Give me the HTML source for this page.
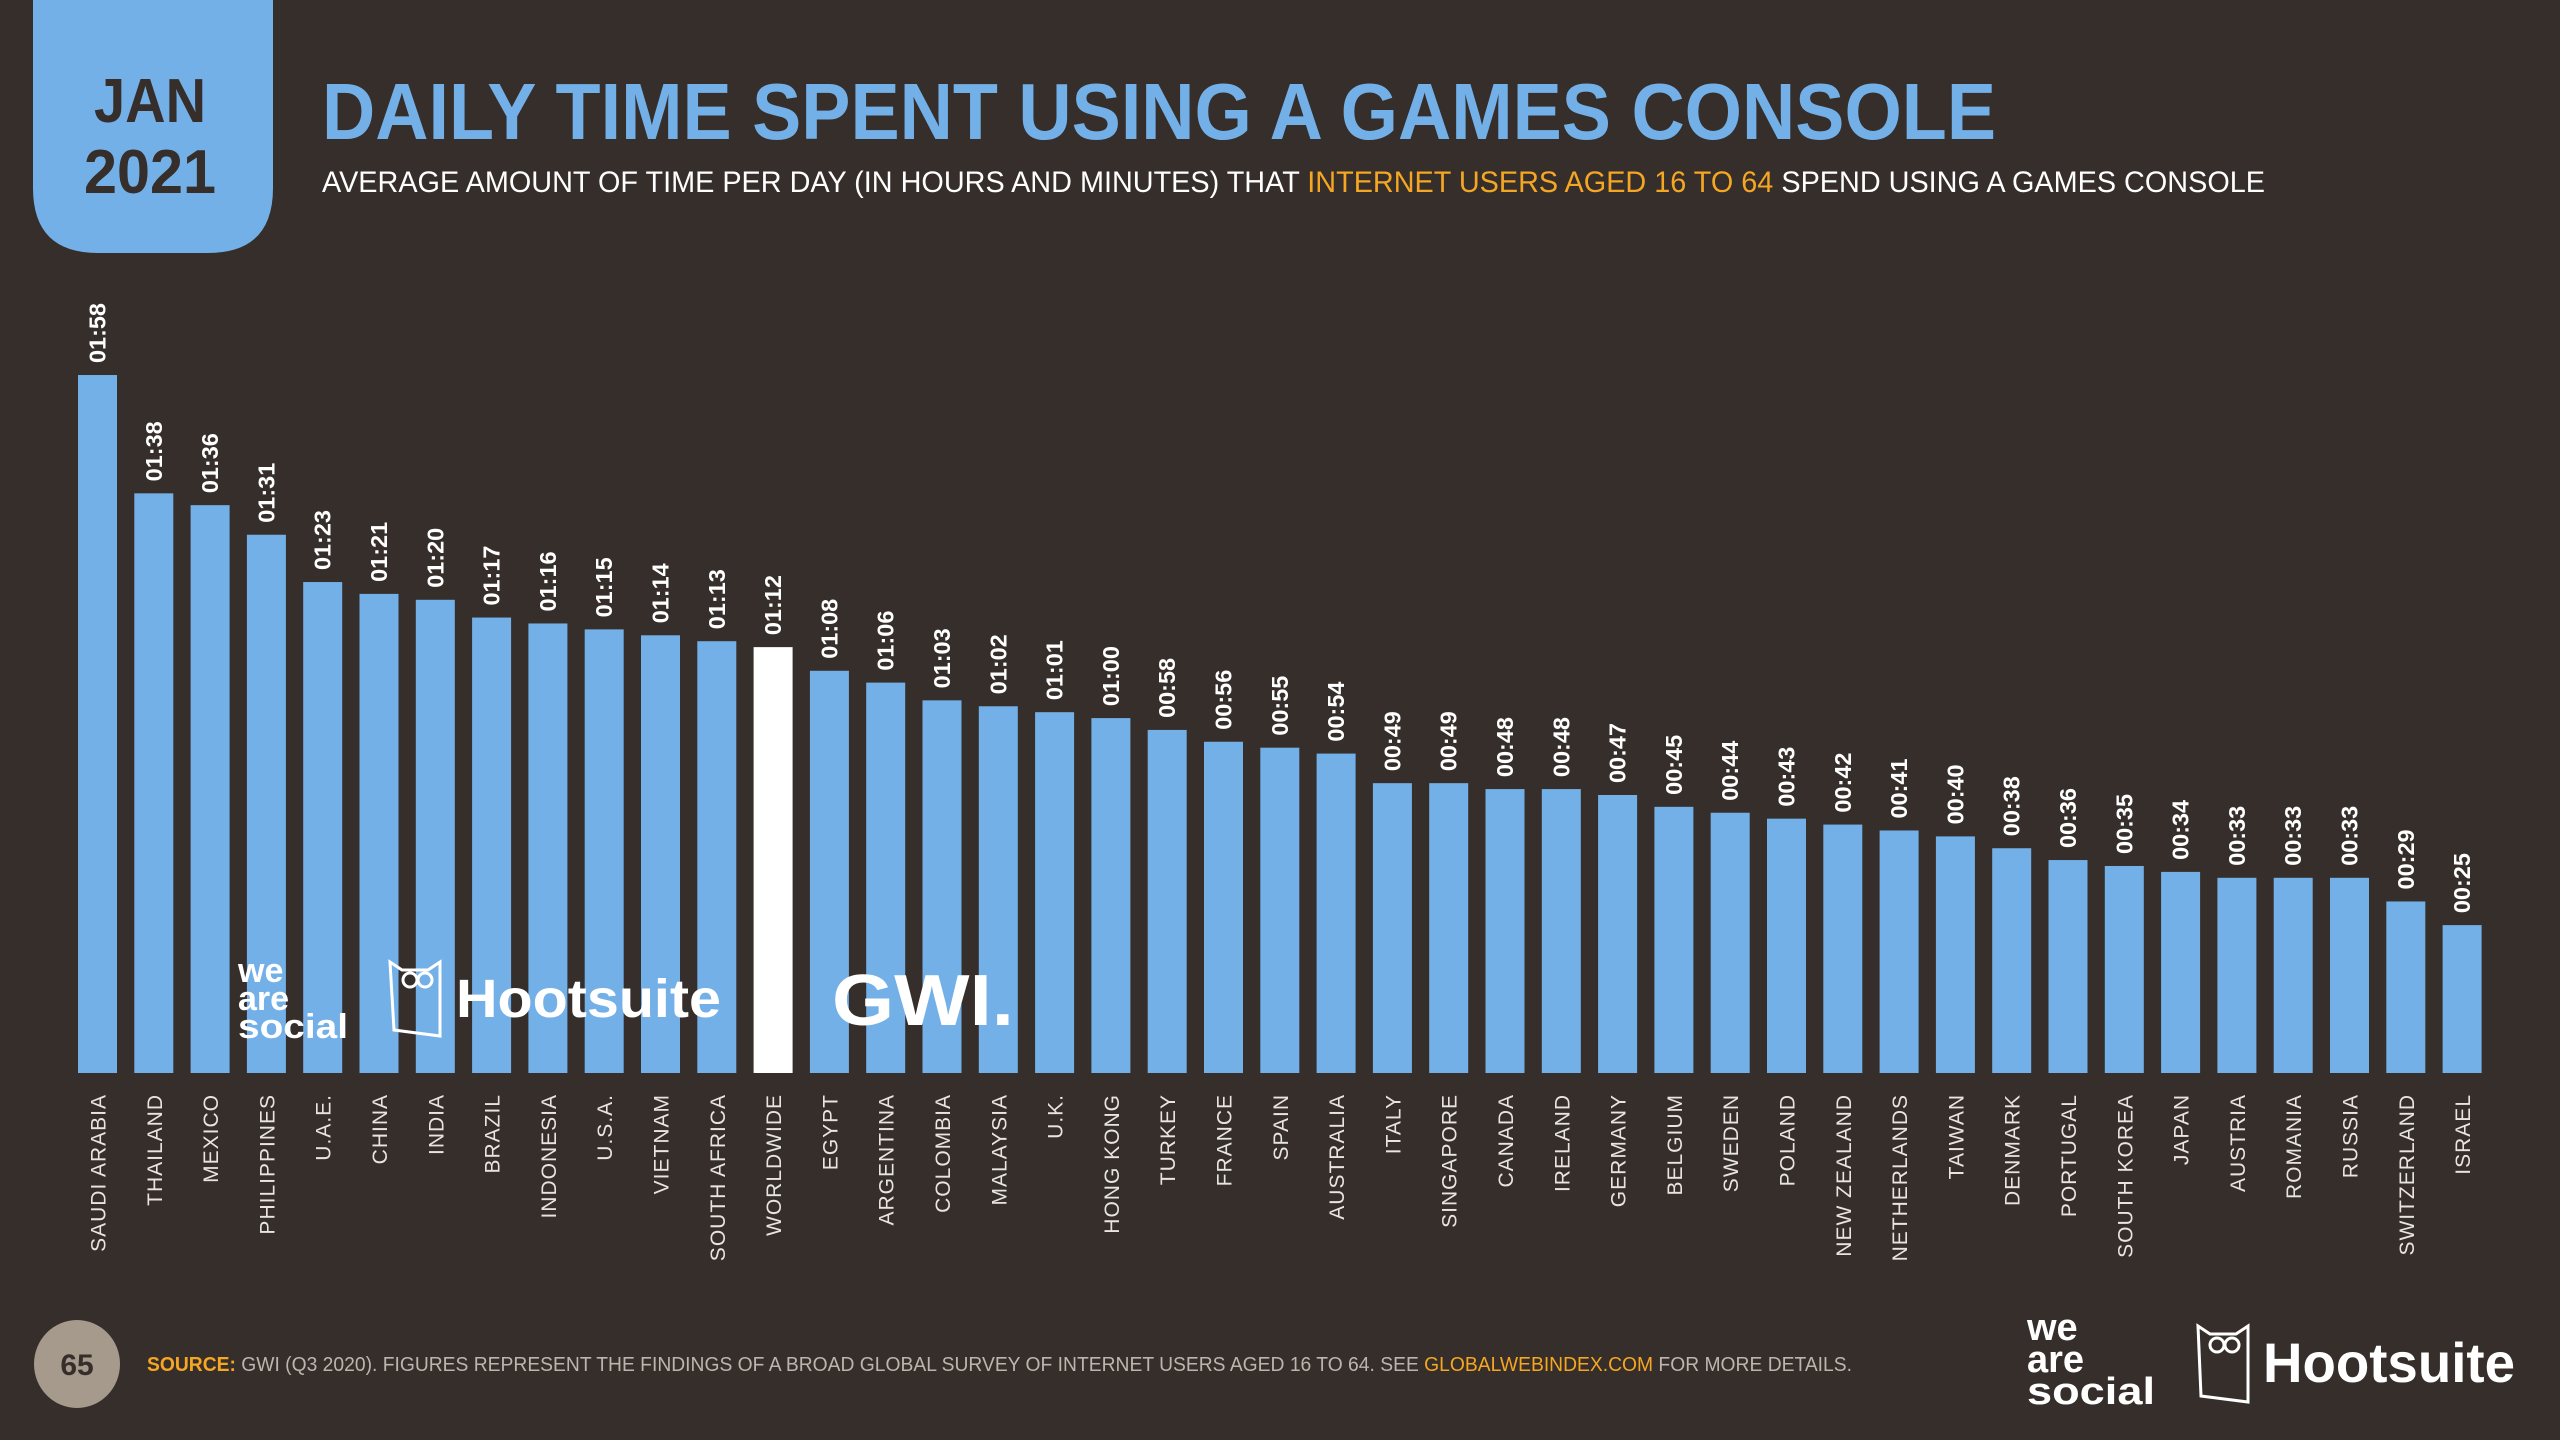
<!DOCTYPE html>
<html><head><meta charset="utf-8"><style>
html,body{margin:0;padding:0;background:#352e2a;}
svg{display:block;}
text{font-family:"Liberation Sans",sans-serif;}
</style></head><body>
<svg id="chart" width="2560" height="1440" viewBox="0 0 2560 1440" xmlns="http://www.w3.org/2000/svg">
<rect x="0" y="0" width="2560" height="1440" fill="#352e2a"/>
<path d="M33 0 H273 V188 Q273 253 208 253 H98 Q33 253 33 188 Z" fill="#74b0e8"/>
<text x="150" y="122" text-anchor="middle" font-size="62" font-weight="bold" fill="#352e2a" textLength="112" lengthAdjust="spacingAndGlyphs">JAN</text>
<text x="150" y="193" text-anchor="middle" font-size="62" font-weight="bold" fill="#352e2a" textLength="132" lengthAdjust="spacingAndGlyphs">2021</text>
<text x="322" y="139" font-size="80" font-weight="bold" fill="#74b0e8" textLength="1674" lengthAdjust="spacingAndGlyphs">DAILY TIME SPENT USING A GAMES CONSOLE</text>
<text x="322" y="192" font-size="30" fill="#ffffff" textLength="1943" lengthAdjust="spacingAndGlyphs">AVERAGE AMOUNT OF TIME PER DAY (IN HOURS AND MINUTES) THAT <tspan fill="#f5a623">INTERNET USERS AGED 16 TO 64</tspan> SPEND USING A GAMES CONSOLE</text>
<g id="bars"></g>
<g id="vals"></g>
<g id="cats"></g>
<g>
<text x="238" y="982" font-size="34" font-weight="bold" fill="#fff">we</text>
<text x="238" y="1010" font-size="34" font-weight="bold" fill="#fff">are</text>
<text x="238" y="1038" font-size="34" font-weight="bold" fill="#fff" textLength="110" lengthAdjust="spacingAndGlyphs">social</text>
</g>
<g>
<path d="M390 962 L394 1030 L440 1036 L440 962 L428 970 L402 970 Z" fill="none" stroke="#fff" stroke-width="3"/>
<circle cx="410" cy="980" r="7" fill="none" stroke="#fff" stroke-width="3"/>
<circle cx="425" cy="980" r="7" fill="none" stroke="#fff" stroke-width="3"/>
<text x="456" y="1017" font-size="54" font-weight="bold" fill="#fff" textLength="265" lengthAdjust="spacingAndGlyphs">Hootsuite</text>
</g>
<text x="832" y="1025" font-size="72" font-weight="bold" fill="#fff" textLength="182" lengthAdjust="spacingAndGlyphs">GWI.</text>
<ellipse cx="77" cy="1364" rx="43" ry="44" fill="#a69a8c"/>
<text x="77" y="1375" text-anchor="middle" font-size="30" font-weight="bold" fill="#352e2a">65</text>
<text x="147" y="1371" font-size="20" fill="#bdb5ad" textLength="1705" lengthAdjust="spacingAndGlyphs"><tspan fill="#f5a623" font-weight="bold">SOURCE:</tspan> GWI (Q3 2020). FIGURES REPRESENT THE FINDINGS OF A BROAD GLOBAL SURVEY OF INTERNET USERS AGED 16 TO 64. SEE <tspan fill="#f5a623">GLOBALWEBINDEX.COM</tspan> FOR MORE DETAILS.</text>
<g>
<text x="2027" y="1340" font-size="38" font-weight="bold" fill="#fff">we</text>
<text x="2027" y="1372" font-size="38" font-weight="bold" fill="#fff">are</text>
<text x="2027" y="1404" font-size="38" font-weight="bold" fill="#fff" textLength="128" lengthAdjust="spacingAndGlyphs">social</text>
</g>
<g>
<path d="M2198 1326 L2201 1396 L2248 1402 L2248 1326 L2236 1334 L2210 1334 Z" fill="none" stroke="#fff" stroke-width="3"/>
<circle cx="2217" cy="1345" r="7" fill="none" stroke="#fff" stroke-width="3"/>
<circle cx="2232" cy="1345" r="7" fill="none" stroke="#fff" stroke-width="3"/>
<text x="2263" y="1382" font-size="56" font-weight="bold" fill="#fff" textLength="252" lengthAdjust="spacingAndGlyphs">Hootsuite</text>
</g>
</svg>
<script>
const categories = ["SAUDI ARABIA","THAILAND","MEXICO","PHILIPPINES","U.A.E.","CHINA","INDIA","BRAZIL","INDONESIA","U.S.A.","VIETNAM","SOUTH AFRICA","WORLDWIDE","EGYPT","ARGENTINA","COLOMBIA","MALAYSIA","U.K.","HONG KONG","TURKEY","FRANCE","SPAIN","AUSTRALIA","ITALY","SINGAPORE","CANADA","IRELAND","GERMANY","BELGIUM","SWEDEN","POLAND","NEW ZEALAND","NETHERLANDS","TAIWAN","DENMARK","PORTUGAL","SOUTH KOREA","JAPAN","AUSTRIA","ROMANIA","RUSSIA","SWITZERLAND","ISRAEL"];
const minutes = [118,98,96,91,83,81,80,77,76,75,74,73,72,68,66,63,62,61,60,58,56,55,54,49,49,48,48,47,45,44,43,42,41,40,38,36,35,34,33,33,33,29,25];
const valueLabels = ["01:58","01:38","01:36","01:31","01:23","01:21","01:20","01:17","01:16","01:15","01:14","01:13","01:12","01:08","01:06","01:03","01:02","01:01","01:00","00:58","00:56","00:55","00:54","00:49","00:49","00:48","00:48","00:47","00:45","00:44","00:43","00:42","00:41","00:40","00:38","00:36","00:35","00:34","00:33","00:33","00:33","00:29","00:25"];
const highlight = "WORLDWIDE";

const NS = "http://www.w3.org/2000/svg";
const baseY = 1073, pxPerMin = 5.915, x0 = 78, pitch = 56.3, bw = 39;
function xPos(i){ return x0 + i*pitch; }
function yPos(v){ return baseY - v*pxPerMin; }
const gb = document.getElementById('bars'), gv = document.getElementById('vals'), gc = document.getElementById('cats');
categories.forEach((c,i)=>{
  const x = xPos(i), y = yPos(minutes[i]);
  const r = document.createElementNS(NS,'rect');
  r.setAttribute('x',x); r.setAttribute('y',y); r.setAttribute('width',bw); r.setAttribute('height',baseY-y);
  r.setAttribute('fill', c===highlight ? '#ffffff' : '#74b0e8');
  
  
  gb.appendChild(r);
  const cx = x + bw/2;
  const t = document.createElementNS(NS,'text');
  t.setAttribute('transform','translate('+(cx+8)+','+(y-12)+') rotate(-90)');
  t.setAttribute('font-size','23'); t.setAttribute('font-weight','bold'); t.setAttribute('fill','#ffffff');
  t.setAttribute('textLength','60'); t.setAttribute('lengthAdjust','spacingAndGlyphs');
  t.textContent = valueLabels[i];
  
  
  gv.appendChild(t);
  const l = document.createElementNS(NS,'text');
  l.setAttribute('transform','translate('+(cx+8)+',1094) rotate(-90)');
  l.setAttribute('text-anchor','end');
  l.setAttribute('font-size','21'); l.setAttribute('fill','#e8e4e0'); l.setAttribute('letter-spacing','1');
  l.textContent = c;
  
  
  gc.appendChild(l);
});
</script>
</body></html>
